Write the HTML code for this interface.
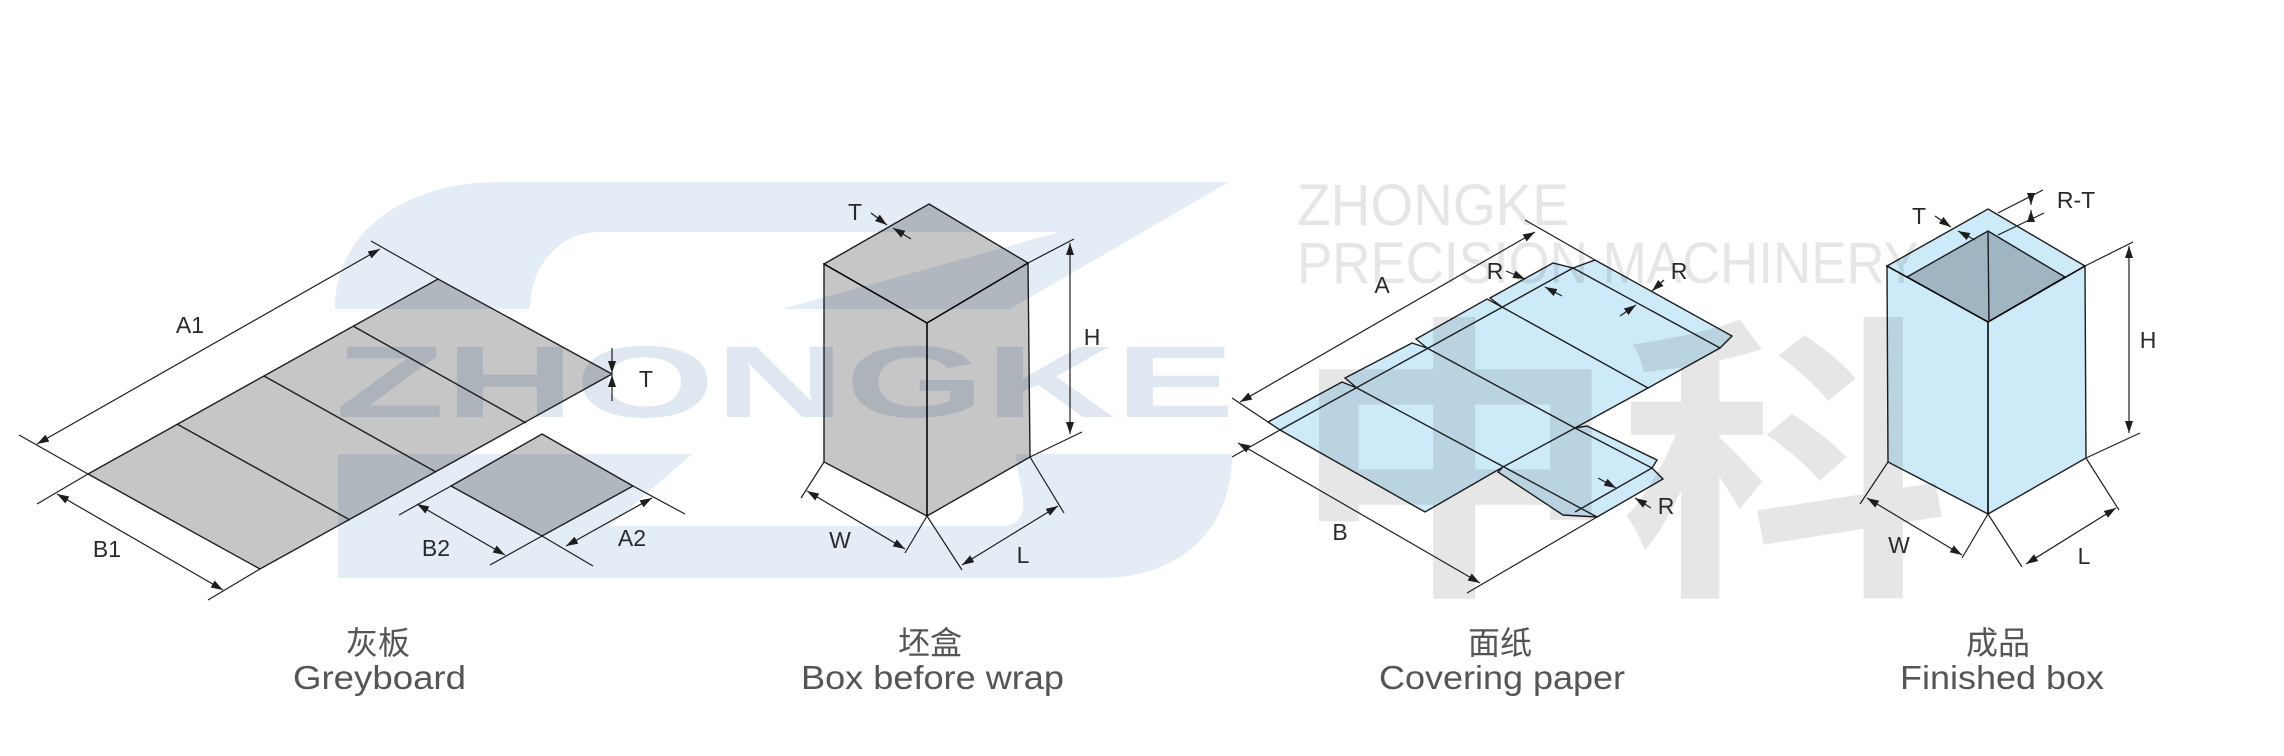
<!DOCTYPE html>
<html><head><meta charset="utf-8">
<style>
html,body{margin:0;padding:0;background:#fff;}
svg{display:block;}
.ln{stroke:#1e1e1e;stroke-width:1.4;fill:none;}
.dm{stroke:#1e1e1e;stroke-width:1.2;fill:none;}
.lb{font-family:"Liberation Sans",sans-serif;font-size:23px;fill:#2a2a2a;text-anchor:middle;}
.cn{font-family:"Liberation Sans","Noto Sans CJK SC",sans-serif;font-size:32px;fill:#555;text-anchor:middle;}
.en{font-family:"Liberation Sans",sans-serif;font-size:33px;fill:#555;}
.gr{fill:#c6c6c6;stroke:#1e1e1e;stroke-width:1.4;mix-blend-mode:multiply;}
.bl{fill:#cdeaf9;stroke:#1e1e1e;stroke-width:1.4;mix-blend-mode:multiply;}
</style></head><body>
<svg width="2284" height="756" viewBox="0 0 2284 756" xmlns="http://www.w3.org/2000/svg">
<defs>
<marker id="a" viewBox="0 0 12 8" refX="12" refY="4" markerWidth="12" markerHeight="8" markerUnits="userSpaceOnUse" orient="auto-start-reverse">
<path d="M0,0 L12,4 L0,8 Z" fill="#1e1e1e"/></marker>
</defs>
<!-- watermark logo -->
<g fill="#e4ecf5">
<path d="M335,309 C335,235 400,182 500,182 L1229,182 L1010,309 L782,309 L1060,232 L600,232 C560,232 530,265 530,309 Z"/>
<path d="M338,454 L692,454 L610,526 L1000,526 C1040,526 1016,480 1016,454 L1232,454 C1232,530 1180,578 1100,578 L338,578 Z"/>
</g>
<text x="335" y="417" textLength="900" lengthAdjust="spacingAndGlyphs" font-family="Liberation Sans" font-weight="bold" font-size="102" fill="#dfe7f1">ZHONGKE</text>
<g font-family="Liberation Sans" fill="#e6e6e6">
<text x="1297" y="225" font-size="58" textLength="272" lengthAdjust="spacingAndGlyphs">ZHONGKE</text>
<text x="1297" y="283" font-size="58" textLength="622" lengthAdjust="spacingAndGlyphs">PRECISION MACHINERY</text>
</g>
<text x="1290" y="572" font-family="Noto Sans CJK SC,sans-serif" font-weight="bold" font-size="300" fill="#e6e6e6" textLength="660" lengthAdjust="spacingAndGlyphs">中科</text>

<!-- Greyboard -->
<polygon class="gr" points="88,474 438,279 612,374 260,569"/>
<polygon class="gr" points="542,434 633,486 542,536 451,486"/>
<g class="ln">
<line x1="353" y1="326" x2="526" y2="423"/>
<line x1="264" y1="376" x2="436" y2="472"/>
<line x1="177" y1="424" x2="350" y2="520"/>
</g>
<g class="dm">
<line x1="19" y1="435" x2="88" y2="474"/>
<line x1="371" y1="241" x2="438" y2="279"/>
<line x1="37" y1="444" x2="380" y2="249" marker-start="url(#a)" marker-end="url(#a)"/>
<line x1="612" y1="348" x2="612" y2="373" marker-end="url(#a)"/>
<line x1="612" y1="401" x2="612" y2="375" marker-end="url(#a)"/>
<line x1="37" y1="504" x2="88" y2="474"/>
<line x1="208" y1="600" x2="260" y2="569"/>
<line x1="57" y1="494" x2="223" y2="590" marker-start="url(#a)" marker-end="url(#a)"/>
<line x1="399" y1="515" x2="451" y2="486"/>
<line x1="490" y1="565" x2="542" y2="536"/>
<line x1="417" y1="504" x2="505" y2="555" marker-start="url(#a)" marker-end="url(#a)"/>
<line x1="685" y1="514" x2="633" y2="486"/>
<line x1="593" y1="566" x2="542" y2="536"/>
<line x1="652" y1="498" x2="566" y2="546" marker-start="url(#a)" marker-end="url(#a)"/>
</g>
<text class="lb" x="190" y="333">A1</text>
<text class="lb" x="646" y="387">T</text>
<text class="lb" x="107" y="557">B1</text>
<text class="lb" x="436" y="556">B2</text>
<text class="lb" x="632" y="546">A2</text>

<!-- Box before wrap -->
<polygon class="gr" points="824,264 927,323 927,516 824,462"/>
<polygon class="gr" points="927,323 1028,263 1030,457 927,516"/>
<polygon class="gr" points="929,204 1028,263 927,323 824,264"/>
<g class="dm">
<line x1="871" y1="213" x2="887" y2="225" marker-end="url(#a)"/>
<line x1="911" y1="239" x2="893" y2="228" marker-end="url(#a)"/>
<line x1="1028" y1="263" x2="1074" y2="239"/>
<line x1="1030" y1="457" x2="1082" y2="432"/>
<line x1="1070" y1="243" x2="1070" y2="434" marker-start="url(#a)" marker-end="url(#a)"/>
<line x1="824" y1="462" x2="801" y2="498"/>
<line x1="927" y1="516" x2="905" y2="553"/>
<line x1="807" y1="491" x2="905" y2="549" marker-start="url(#a)" marker-end="url(#a)"/>
<line x1="1030" y1="457" x2="1064" y2="513"/>
<line x1="927" y1="516" x2="962" y2="570"/>
<line x1="1058" y1="506" x2="962" y2="565" marker-start="url(#a)" marker-end="url(#a)"/>
</g>
<text class="lb" x="855" y="220">T</text>
<text class="lb" x="1092" y="345">H</text>
<text class="lb" x="840" y="548">W</text>
<text class="lb" x="1023" y="563">L</text>

<!-- Covering paper -->
<path class="bl" d="M1268,422 L1342,382 L1357,388 L1345,378 L1412,343 L1427,348 L1416,339 L1487,299 L1502,307 L1490,298 L1553,263 L1573,268 L1595,260 L1732,336 L1720,348 L1648,388 L1575,428 L1587,426 L1657,460 L1652,468 L1663,479 L1597,517 L1563,515 L1498,472 L1503,467 L1425,512 L1280,430 Z"/>
<g class="ln">
<line x1="1280" y1="430" x2="1573" y2="268"/>
<line x1="1357" y1="388" x2="1597" y2="517"/>
<line x1="1427" y1="348" x2="1575" y2="428"/>
<line x1="1502" y1="307" x2="1648" y2="388"/>
<line x1="1573" y1="268" x2="1720" y2="348"/>
<line x1="1503" y1="467" x2="1575" y2="428"/>
<line x1="1575" y1="428" x2="1652" y2="468"/>
<line x1="1652" y1="468" x2="1575" y2="512"/>
</g>
<g class="dm">
<line x1="1240" y1="402" x2="1535" y2="232" marker-start="url(#a)" marker-end="url(#a)"/>
<line x1="1525" y1="220" x2="1595" y2="260"/>
<line x1="1232" y1="398" x2="1268" y2="422"/>
<line x1="1280" y1="430" x2="1232" y2="457"/>
<line x1="1238" y1="443" x2="1480" y2="583" marker-start="url(#a)" marker-end="url(#a)"/>
<line x1="1467" y1="593" x2="1597" y2="517"/>
<line x1="1506" y1="271" x2="1525" y2="279" marker-end="url(#a)"/>
<line x1="1562" y1="296" x2="1545" y2="287" marker-end="url(#a)"/>
<line x1="1664" y1="280" x2="1652" y2="291" marker-end="url(#a)"/>
<line x1="1620" y1="316" x2="1636" y2="305" marker-end="url(#a)"/>
<line x1="1651" y1="508" x2="1635" y2="498" marker-end="url(#a)"/>
<line x1="1598" y1="478" x2="1616" y2="488" marker-end="url(#a)"/>
</g>
<text class="lb" x="1495" y="279">R</text>
<text class="lb" x="1679" y="279">R</text>
<text class="lb" x="1666" y="514">R</text>
<text class="lb" x="1382" y="293">A</text>
<text class="lb" x="1340" y="540">B</text>

<!-- Finished box -->
<polygon class="bl" points="1887,266 1988,322 1988,514 1888,462"/>
<polygon class="bl" points="1988,322 2085,266 2086,458 1988,514"/>
<polygon class="bl" points="1988,209 2085,266 1988,322 1887,266"/>
<polygon class="gr" points="1988,231 2065,277 1988,322 1907,277"/>
<line class="ln" x1="1988" y1="231" x2="1989" y2="322"/>
<g class="dm">
<line x1="1998" y1="213" x2="2043" y2="190"/>
<line x1="1998" y1="235" x2="2044" y2="213"/>
<line x1="2031" y1="196" x2="2031" y2="205" marker-end="url(#a)"/>
<line x1="2031" y1="219" x2="2031" y2="210" marker-end="url(#a)"/>
<line x1="1935" y1="216" x2="1951" y2="227" marker-end="url(#a)"/>
<line x1="1975" y1="240" x2="1958" y2="231" marker-end="url(#a)"/>
<line x1="2085" y1="266" x2="2133" y2="242"/>
<line x1="2086" y1="458" x2="2140" y2="433"/>
<line x1="2129" y1="246" x2="2129" y2="433" marker-start="url(#a)" marker-end="url(#a)"/>
<line x1="1888" y1="462" x2="1860" y2="504"/>
<line x1="1988" y1="514" x2="1962" y2="558"/>
<line x1="1867" y1="498" x2="1962" y2="555" marker-start="url(#a)" marker-end="url(#a)"/>
<line x1="2086" y1="458" x2="2119" y2="510"/>
<line x1="1988" y1="514" x2="2022" y2="567"/>
<line x1="2116" y1="508" x2="2026" y2="564" marker-start="url(#a)" marker-end="url(#a)"/>
</g>
<text class="lb" x="2076" y="208">R-T</text>
<text class="lb" x="1919" y="224">T</text>
<text class="lb" x="2148" y="348">H</text>
<text class="lb" x="1899" y="553">W</text>
<text class="lb" x="2084" y="564">L</text>

<!-- Captions -->
<text class="cn" x="378" y="654">灰板</text>
<text class="cn" x="930" y="654">坯盒</text>
<text class="cn" x="1500" y="654">面纸</text>
<text class="cn" x="1998" y="654">成品</text>
<text class="en" x="293" y="689" textLength="173" lengthAdjust="spacingAndGlyphs">Greyboard</text>
<text class="en" x="801" y="689" textLength="263" lengthAdjust="spacingAndGlyphs">Box before wrap</text>
<text class="en" x="1379" y="689" textLength="246" lengthAdjust="spacingAndGlyphs">Covering paper</text>
<text class="en" x="1900" y="689" textLength="204" lengthAdjust="spacingAndGlyphs">Finished box</text>
</svg>
</body></html>
